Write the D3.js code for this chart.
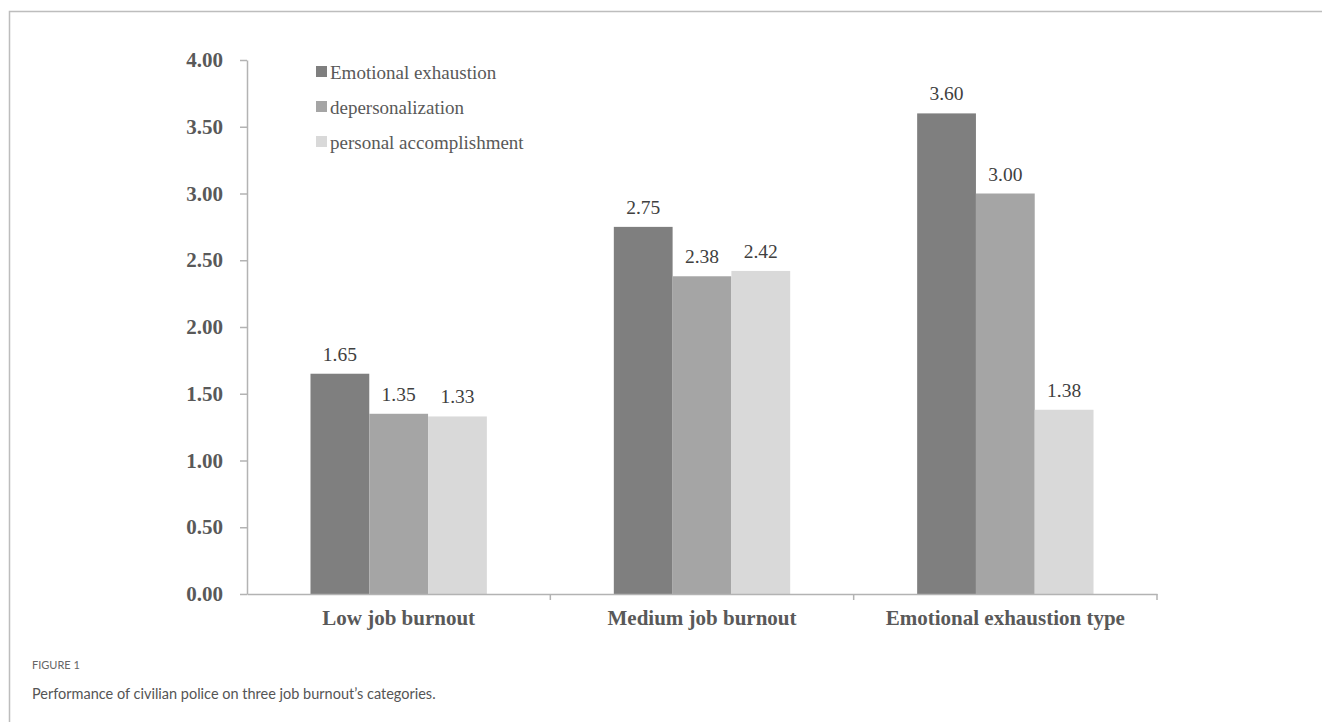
<!DOCTYPE html>
<html lang="en">
<head>
    <title>Job burnout categories</title>
    <script src="https://d3js.org/d3.v7.min.js"></script>
    <style>
        body {
            margin: 0;
            background: #fff;
        }
        svg {
            display: block;
        }
        .serif {
            font-family: "Liberation Serif", "Times New Roman", serif;
        }
        .caption {
            font-family: Lato, "Open Sans", sans-serif;
        }
    </style>
</head>
<body>
<svg id="target" width="1322" height="722"></svg>
<script type="text/javascript">
    const categories = ['Low job burnout', 'Medium job burnout', 'Emotional exhaustion type'];
    const seriesNames = ['Emotional exhaustion', 'depersonalization', 'personal accomplishment'];
    const emotionalExhaustion = [1.65, 2.75, 3.60];
    const depersonalization = [1.35, 2.38, 3.00];
    const personalAccomplishment = [1.33, 2.42, 1.38];
    const yTicks = [0, 0.5, 1, 1.5, 2, 2.5, 3, 3.5, 4];
    const colors = ['#7f7f7f', '#a5a5a5', '#d9d9d9'];

    const seriesValues = [emotionalExhaustion, depersonalization, personalAccomplishment];

    const svg = d3.select('#target');

    // frame (top + left rule like the journal figure box)
    svg.append('path')
        .attr('d', 'M9.5,722 V11.5 H1322')
        .attr('fill', 'none')
        .attr('stroke', '#bdbdbd')
        .attr('stroke-width', 1.5);

    const plotLeft = 247, plotRight = 1157, plotTop = 60, plotBottom = 594;

    const x = d3.scaleBand().domain(categories).range([plotLeft, plotRight]);
    const xInner = d3.scaleBand().domain(seriesNames)
        .range([0, x.bandwidth()]).paddingOuter(1.08);
    const y = d3.scaleLinear().domain([0, 4]).range([plotBottom, plotTop]);

    // bars
    const groups = svg.append('g').selectAll('g')
        .data(categories)
        .join('g')
        .attr('transform', d => 'translate(' + x(d) + ',0)');

    groups.selectAll('rect')
        .data((c, i) => seriesNames.map((s, j) => ({s: s, v: seriesValues[j][i], j: j})))
        .join('rect')
        .attr('x', d => xInner(d.s))
        .attr('width', xInner.bandwidth())
        .attr('y', d => y(d.v))
        .attr('height', d => y(0) - y(d.v))
        .attr('fill', d => colors[d.j]);

    groups.selectAll('text')
        .data((c, i) => seriesNames.map((s, j) => ({s: s, v: seriesValues[j][i]})))
        .join('text')
        .attr('class', 'serif')
        .attr('x', d => xInner(d.s) + xInner.bandwidth() / 2)
        .attr('y', d => y(d.v) - 13)
        .attr('text-anchor', 'middle')
        .attr('font-size', 19.5)
        .attr('fill', '#404040')
        .text(d => d.v.toFixed(2));

    // y axis
    const yAxis = svg.append('g')
        .attr('transform', 'translate(' + plotLeft + ',0)')
        .call(d3.axisLeft(y).tickValues(yTicks).tickFormat(d3.format('.2f'))
            .tickSize(7).tickSizeOuter(0).tickPadding(17));
    yAxis.select('.domain').attr('stroke', '#b3b3b3').attr('stroke-width', 1.5);
    yAxis.selectAll('.tick line').attr('stroke', '#b3b3b3').attr('stroke-width', 1.5);
    yAxis.selectAll('.tick text')
        .attr('class', 'serif')
        .attr('font-size', 21)
        .attr('font-weight', 'bold')
        .attr('fill', '#595959');

    // x axis
    const xAxis = svg.append('g')
        .attr('transform', 'translate(0,' + plotBottom + ')')
        .call(d3.axisBottom(x).tickSize(0).tickSizeOuter(0).tickPadding(16));
    xAxis.select('.domain').attr('stroke', '#b3b3b3').attr('stroke-width', 1.5);
    xAxis.selectAll('.tick text')
        .attr('class', 'serif')
        .attr('font-size', 21)
        .attr('font-weight', 'bold')
        .attr('fill', '#595959');
    // category separators
    xAxis.selectAll('.sep')
        .data(categories.slice(1).concat(['end']))
        .join('line')
        .attr('x1', d => d === 'end' ? plotRight : x(d))
        .attr('x2', d => d === 'end' ? plotRight : x(d))
        .attr('y1', 0)
        .attr('y2', 6)
        .attr('stroke', '#b3b3b3')
        .attr('stroke-width', 1.5);

    // legend
    const legend = svg.append('g').selectAll('g')
        .data(seriesNames)
        .join('g')
        .attr('transform', (d, i) => 'translate(316,' + (72 + i * 35) + ')');
    legend.append('rect')
        .attr('x', 0)
        .attr('y', -6)
        .attr('width', 11)
        .attr('height', 11)
        .attr('fill', (d, i) => colors[i]);
    legend.append('text')
        .attr('class', 'serif')
        .attr('x', 14)
        .attr('y', 0)
        .attr('dy', '0.35em')
        .attr('font-size', 19)
        .attr('fill', '#595959')
        .text(d => d);

    // caption
    svg.append('text')
        .attr('class', 'caption')
        .attr('x', 32)
        .attr('y', 669)
        .attr('font-size', 11)
        .attr('fill', '#666')
        .text('FIGURE 1');
    svg.append('text')
        .attr('class', 'caption')
        .attr('x', 32)
        .attr('y', 699)
        .attr('font-size', 14.5)
        .attr('fill', '#555')
        .text('Performance of civilian police on three job burnout\u2019s categories.');
</script>
</body>
</html>
